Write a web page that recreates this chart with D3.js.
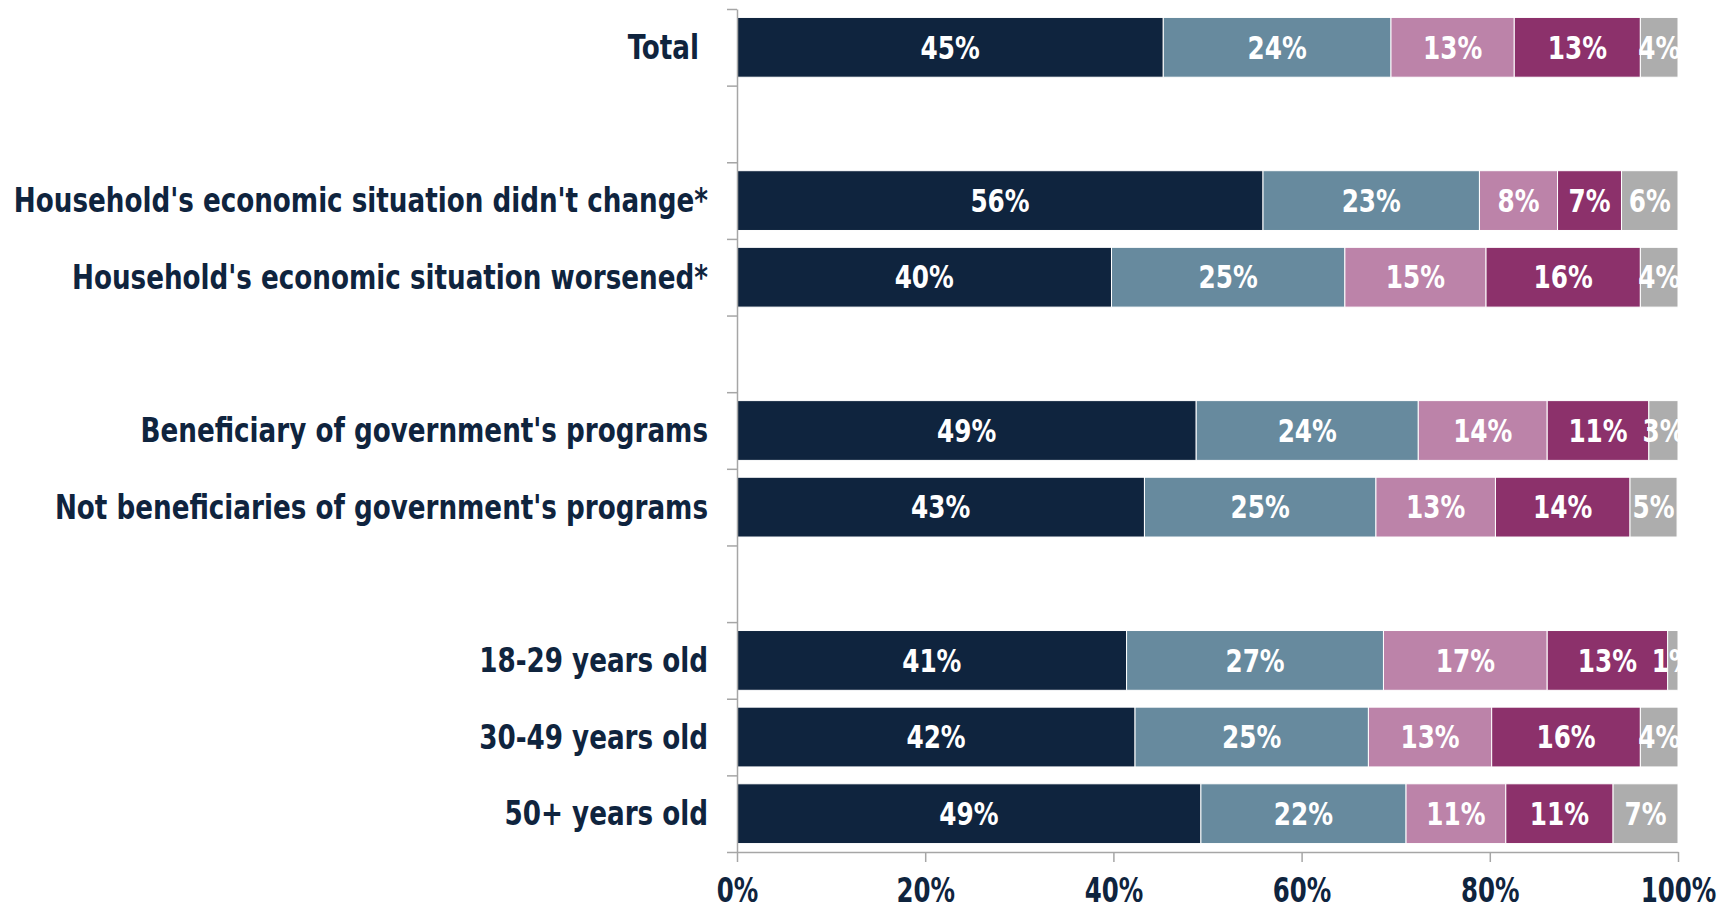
<!DOCTYPE html>
<html>
<head>
<meta charset="utf-8">
<script src="https://cdn.jsdelivr.net/npm/d3@7"></script>
<style>
  body { margin: 0; background: #ffffff; }
</style>
</head>
<body>
<svg id="chart" width="1732" height="904"></svg>
<script>
// Row labels, blank strings are the empty spacer rows between groups
const categories = [
    "Total ",
    "",
    "Household's economic situation didn't change*",
    "Household's economic situation worsened*",
    "",
    "Beneficiary of government's programs",
    "Not beneficiaries of government's programs",
    "",
    "18-29 years old",
    "30-49 years old",
    "50+ years old"
];

// Share of each answer (in %), null on the spacer rows
const answer1 = [45.3, null, 55.9, 39.8, null, 48.8, 43.3, null, 41.4, 42.3, 49.3];
const answer2 = [24.2, null, 23.0, 24.8, null, 23.6, 24.6, null, 27.3, 24.8, 21.8];
const answer3 = [13.1, null, 8.3, 15.0, null, 13.7, 12.7, null, 17.4, 13.1, 10.6];
const answer4 = [13.4, null, 6.8, 16.4, null, 10.8, 14.3, null, 12.8, 15.8, 11.4];
const answer5 = [4.0, null, 6.0, 4.0, null, 3.1, 5.0, null, 1.1, 4.0, 6.9];

const seriesKeys = ["answer1", "answer2", "answer3", "answer4", "answer5"];
const seriesColors = ["#0f243e", "#678a9e", "#bc83a9", "#8c316b", "#adadad"];
const xTicks = [0, 20, 40, 60, 80, 100];

const size = {
    width: 1732,
    height: 904,
    left: 737,
    right: 1678,
    top: 9,
    bottom: 852
};

// the original uses a narrow face, so DejaVu Condensed gets squeezed a bit
const font = "'DejaVu Sans Condensed', 'DejaVu Sans', sans-serif";

const svg = d3.select("#chart");

// Build rows for the stack (skip the spacer rows)
const rows = categories.map((label, i) => ({
    index: i,
    label: label,
    answer1: answer1[i],
    answer2: answer2[i],
    answer3: answer3[i],
    answer4: answer4[i],
    answer5: answer5[i]
})).filter(d => d.answer1 !== null);

const stacked = d3.stack().keys(seriesKeys)(rows);

// Scales
const x = d3.scaleLinear()
    .domain([0, 100])
    .range([size.left, size.right]);

const y = d3.scaleBand()
    .domain(d3.range(categories.length))
    .range([size.top, size.bottom])
    .paddingInner(0.22)
    .paddingOuter(0.11);

// slot boundaries, used for the tick marks on the category axis
const ySlots = d3.scaleLinear()
    .domain([0, categories.length])
    .range([size.top, size.bottom]);

const color = d3.scaleOrdinal()
    .domain(seriesKeys)
    .range(seriesColors);

// Clip for the value labels so they stop at 100%
svg.append("clipPath")
    .attr("id", "plot-clip")
    .append("rect")
    .attr("x", size.left)
    .attr("y", 0)
    .attr("width", size.right - size.left)
    .attr("height", size.height);

// Bars
const layers = svg.append("g")
    .selectAll("g")
    .data(stacked)
    .enter().append("g")
    .attr("fill", d => color(d.key));

layers.selectAll("rect")
    .data(d => d)
    .enter().append("rect")
    .attr("x", d => x(d[0]))
    .attr("y", d => y(d.data.index))
    .attr("width", d => x(d[1]) - x(d[0]))
    .attr("height", y.bandwidth())
    .attr("stroke", "#ffffff")
    .attr("stroke-width", 1);

// Value labels inside the segments
const labels = svg.append("g")
    .attr("clip-path", "url(#plot-clip)");

stacked.forEach(function(layer) {
    labels.selectAll(null)
        .data(layer)
        .enter().append("text")
        .attr("transform", d => `translate(${(x(d[0]) + x(d[1])) / 2},${y(d.data.index) + y.bandwidth() / 2}) scale(0.86,1)`)
        .attr("text-anchor", "middle")
        .attr("dominant-baseline", "central")
        .attr("fill", "#ffffff")
        .style("font-family", font)
        .style("font-weight", "bold")
        .style("font-size", "32px")
        .text(d => Math.round(d[1] - d[0]) + "%");
});

// Category labels
svg.append("g")
    .selectAll("text")
    .data(categories.map((label, i) => ({ label, i })).filter(d => d.label !== ""))
    .enter().append("text")
    .attr("transform", d => `translate(708,${y(d.i) + y.bandwidth() / 2}) scale(0.883,1)`)
    .attr("text-anchor", "end")
    .attr("dominant-baseline", "central")
    .attr("fill", "#0f243e")
    .style("white-space", "pre")
    .style("font-family", font)
    .style("font-weight", "bold")
    .style("font-size", "33px")
    .text(d => d.label);

// Category axis (ticks between the rows)
svg.append("g")
    .attr("transform", `translate(${size.left},0)`)
    .call(d3.axisLeft(ySlots)
        .tickValues(d3.range(categories.length + 1))
        .tickFormat("")
        .tickSizeInner(10)
        .tickSizeOuter(0));

// Percentage axis
const xAxis = svg.append("g")
    .attr("transform", `translate(0,${size.bottom})`)
    .call(d3.axisBottom(x)
        .tickValues(xTicks)
        .tickFormat(d => d + "%")
        .tickSizeInner(10)
        .tickSizeOuter(0)
        .tickPadding(16));

svg.selectAll(".domain, .tick line")
    .attr("stroke", "#a6a6a6")
    .attr("stroke-width", 1.5);

xAxis.selectAll("text")
    .attr("fill", "#0f243e")
    .attr("transform", "scale(0.8,1)")
    .style("font-family", font)
    .style("font-weight", "bold")
    .style("font-size", "34px");
</script>
</body>
</html>
